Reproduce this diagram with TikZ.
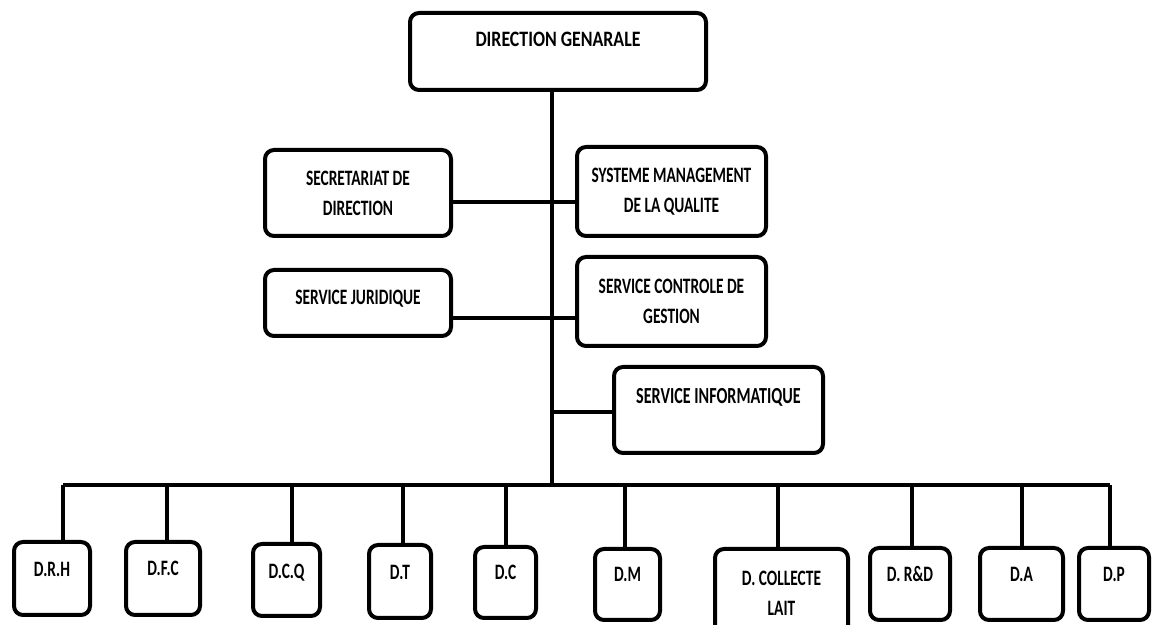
\documentclass[tikz,border=0pt]{standalone}
\usepackage{fontspec}
\newfontfamily\orgfont{Carlito}[FakeStretch=0.7]
\newfontfamily\dgfont{Carlito}[FakeStretch=0.81]
\begin{document}
\begin{tikzpicture}[x=0.5pt,y=-0.5pt,
  box/.style={draw, line width=2pt, rounded corners=4.5pt, fill=white, inner sep=0pt, align=center,
    font=\orgfont\bfseries\fontsize{11}{15}\selectfont},
  lift/.style={text height=7pt, text depth=#1},
  link/.style={line width=1.8pt}]
\useasboundingbox (0,0) rectangle (1153,625);
\node[box, font=\dgfont\bfseries\fontsize{11}{15}\selectfont, minimum width=148pt, minimum height=38.5pt, lift=11.5pt] (dg) at (558,51.5){DIRECTION GENARALE};
\node[box, minimum width=93pt, minimum height=43pt] (sec) at (358,193){SECRETARIAT DE\\DIRECTION};
\node[box, minimum width=94.5pt, minimum height=44.5pt] (smq) at (671.5,191.5){SYSTEME MANAGEMENT\\DE LA QUALITE};
\node[box, minimum width=93pt, minimum height=33pt, lift=5pt] (jur) at (358,303){SERVICE JURIDIQUE};
\node[box, minimum width=94.5pt, minimum height=44.5pt] (scg) at (671.5,301.5){SERVICE CONTROLE DE\\GESTION};
\node[box, font=\orgfont\bfseries\fontsize{11.5}{15}\selectfont, minimum width=104.5pt, minimum height=43pt, lift=13pt] (inf) at (718.5,410){SERVICE INFORMATIQUE};
\node[box, minimum width=38pt, minimum height=36.5pt, lift=9pt] (drh) at (52,578.5){D.R.H};
\node[box, minimum width=37pt, minimum height=36.5pt, lift=10pt] (dfc) at (163,578.5){D.F.C};
\node[box, minimum width=33.5pt, minimum height=36pt, lift=8pt] (dcq) at (286.5,580){D.C.Q};
\node[box, minimum width=31pt, minimum height=36.5pt, lift=8.5pt] (dt) at (400,581.5){D.T};
\node[box, minimum width=30.5pt, minimum height=35.5pt, lift=9.5pt] (dc) at (505.5,582.5){D.C};
\node[box, minimum width=32.5pt, minimum height=35.5pt, lift=9.5pt] (dm) at (627.5,584.5){D.M};
\node[box, minimum width=66.5pt, minimum height=44pt] (dcl) at (781.5,593){D. COLLECTE\\LAIT};
\node[box, minimum width=40pt, minimum height=36pt, lift=9pt] (drd) at (910,584){D. R\&D};
\node[box, minimum width=41.5pt, minimum height=36pt, lift=9pt] (da) at (1021.5,584){D.A};
\node[box, minimum width=35pt, minimum height=36pt, lift=9pt] (dp) at (1114,584){D.P};
\coordinate (trunk) at (552,485);
\coordinate (j1) at (552,202);
\coordinate (j2) at (552,318);
\coordinate (j3) at (552,412);
\draw[link](dg.south -| trunk) -- (trunk);
\draw[link](j1 -| sec.east) -- (j1 -| smq.west);
\draw[link](j2 -| jur.east) -- (j2 -| scg.west);
\draw[link](j3) -- (j3 -| inf.west);
\foreach \n/\x in {drh/63,dfc/167,dcq/292,dt/403,dc/506,dm/625,dcl/778,drd/912,da/1022,dp/1110}{
  \coordinate (b\n) at (\x,485);
  \draw[link](b\n) -- (b\n |- \n.north);
}
\draw[line width=2pt](bdrh) -- (bdp);
\end{tikzpicture}
\end{document}
